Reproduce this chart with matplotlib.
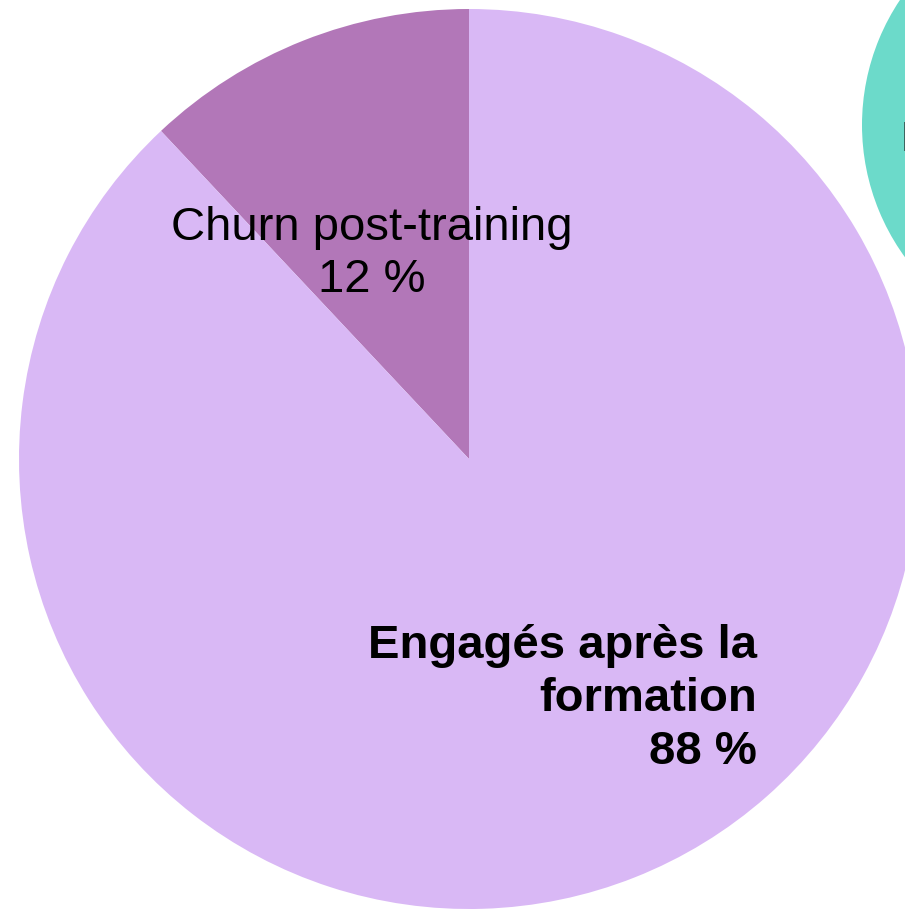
import matplotlib.pyplot as plt

plt.rcParams['font.family'] = ['Liberation Sans', 'DejaVu Sans']

labels = ["Churn post-training", "Engagés après la\nformation"]
values = [12, 88]
colors = ["#B277B8", "#D9B8F5"]

other_values = [100]
other_colors = ["#6CDACA"]

fig = plt.figure(figsize=(9.05, 9.09), dpi=100)

# main pie, partly cut on the right
ax = fig.add_axes([19/905, 0, 900/905, 900/909])
ax.pie(values, colors=colors, startangle=90, counterclock=True,
       wedgeprops=dict(linewidth=0))
ax.set_xlim(-1, 1)
ax.set_ylim(-1, 1)
ax.set_aspect('equal')
ax.axis('off')

ax.text(-0.217, 0.456, labels[0] + "\n%d %%" % values[0], ha='center', va='center',
        fontsize=34, linespacing=1.22)
ax.text(0.64, -0.533, labels[1] + "\n%d %%" % values[1], ha='right', va='center',
        fontsize=34, fontweight='bold', linespacing=1.27, multialignment='right')

# second pie, mostly outside the figure
ax2 = fig.add_axes([862/905, (909-125-225)/909, 450/905, 450/909])
ax2.pie(other_values, colors=other_colors, wedgeprops=dict(linewidth=0))
ax2.set_xlim(-1, 1)
ax2.set_ylim(-1, 1)
ax2.set_aspect('equal')
ax2.axis('off')
fig.text(901/905, 1 - 140/909, "D", fontsize=30, ha='left', va='center', color='#222222')

fig.savefig("out.png", dpi=100)
